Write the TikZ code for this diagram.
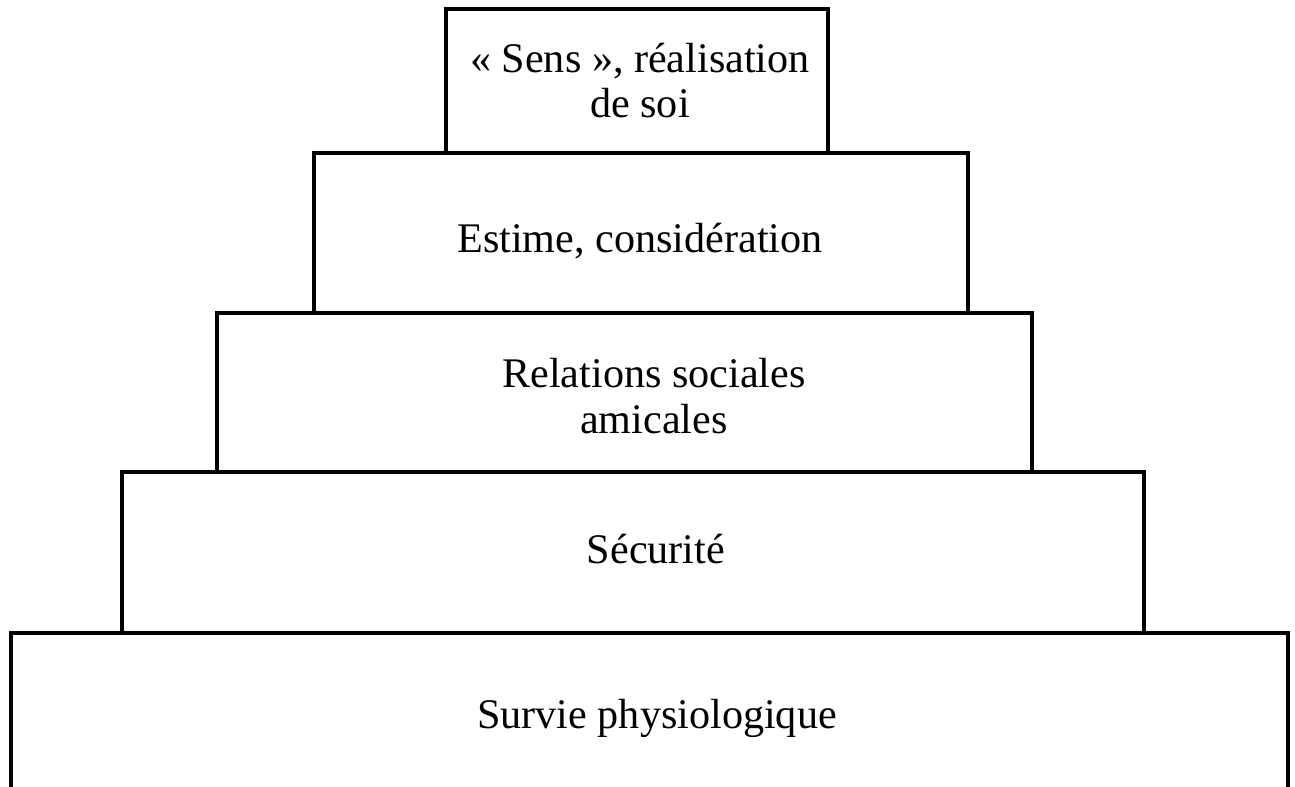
\documentclass[tikz,border=0pt]{standalone}
\usepackage{fontspec}
\setmainfont{Liberation Serif}
\usetikzlibrary{positioning}

\begin{document}
\begin{tikzpicture}[x=0.02cm,y=-0.02cm,
		tier/.style={draw,line width=2pt,inner sep=0pt},
		txt/.style={font=\fontsize{24}{26}\selectfont,align=center,anchor=base}]
		\useasboundingbox (0,0) rectangle (1295,787);

		% base level, open at the bottom
		\draw[line width=2pt] (11,787) -- (11,633) -- (1288,633) -- (1288,787);
		\node[txt] (survie) at (657,728) {Survie physiologique};

		\node[tier,minimum width=20.44cm,minimum height=3.22cm] (secubox) at (633,552.5) {};
		\node[txt] (secu) at (656,563) {Sécurité};

		\node[tier,minimum width=16.3cm,minimum height=3.18cm] (relbox) at (624.5,392.5) {};
		\node[txt] (rel) at (654,433) {Relations sociales\\amicales};

		\node[tier,minimum width=13.08cm,minimum height=3.2cm] (estbox) at (641,233) {};
		\node[txt] (est) at (640,253) {Estime, considération};

		\node[tier,minimum width=7.64cm,minimum height=2.88cm] (sensbox) at (637,81) {};
		\node[txt] (sens) at (640,118) {«~Sens~», réalisation\\de soi};
	\end{tikzpicture}
\end{document}
